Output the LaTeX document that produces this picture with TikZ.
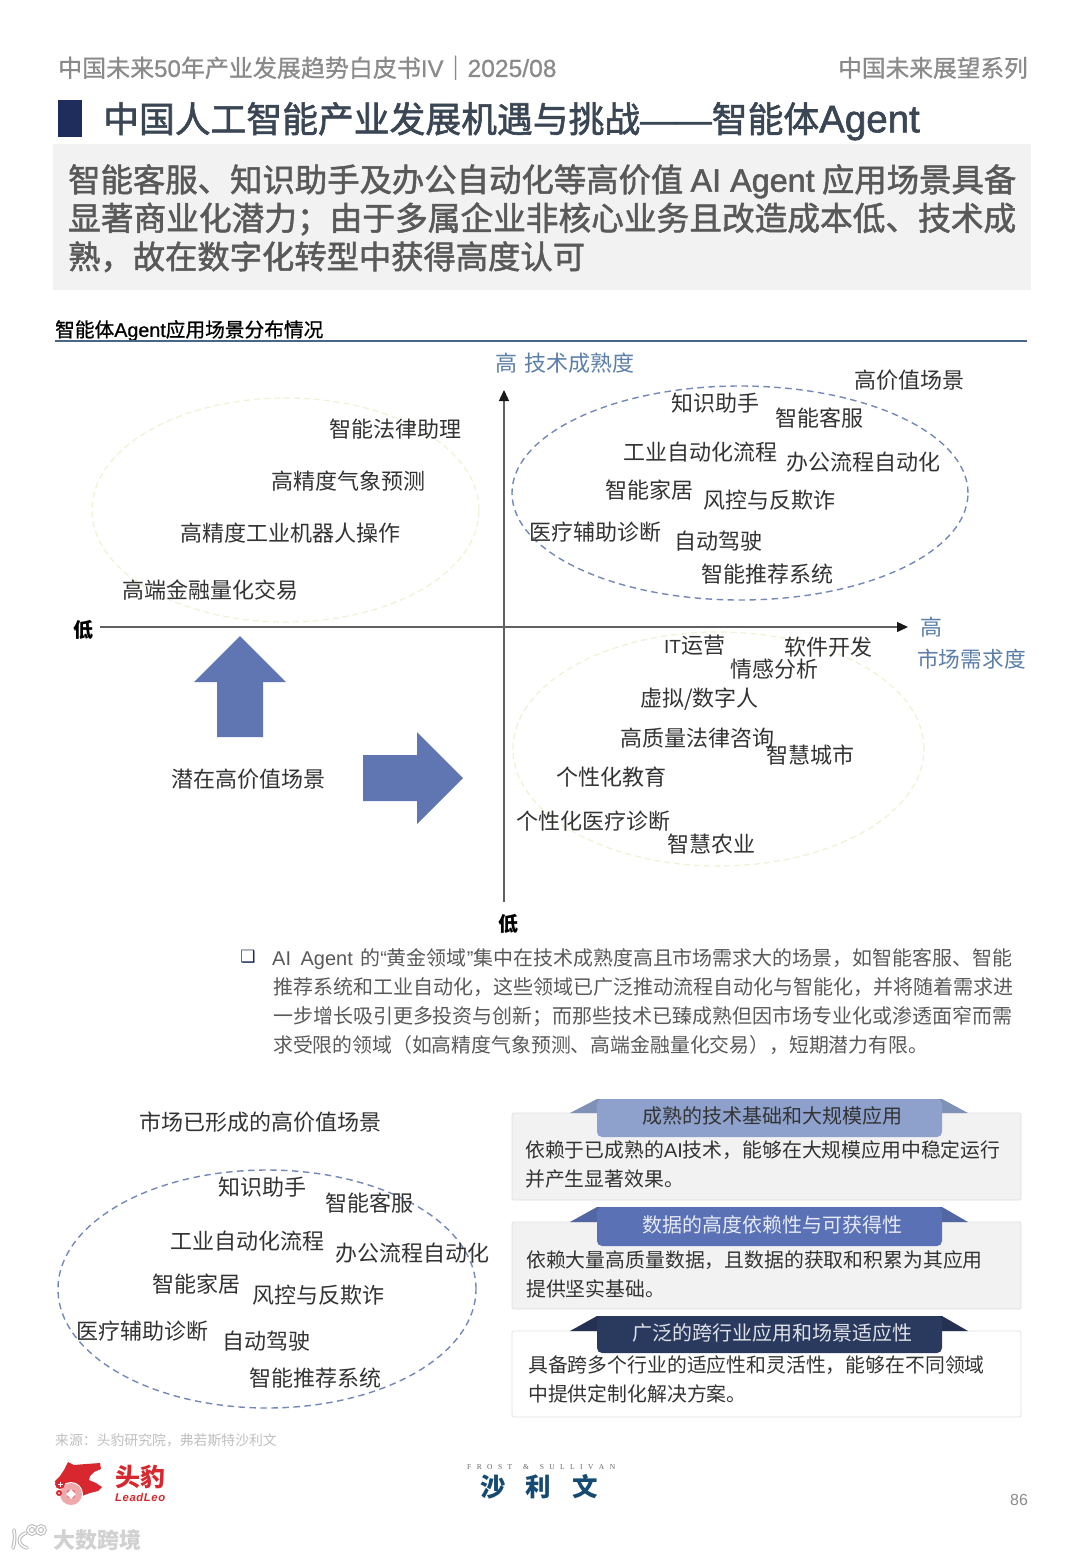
\documentclass[tikz,border=0pt]{standalone}
\usepackage{fontspec}
\usepackage{graphicx}
\setmainfont{Noto Sans CJK SC}
\newfontfamily\med{Noto Sans CJK SC}[FakeBold=0.8]
\newfontfamily\hvy{Noto Sans CJK SC}[FakeBold=1.6]
\newfontfamily\lat{Liberation Sans}
\newfontfamily\latm{Liberation Sans}[FakeBold=0.8]
\newfontfamily\lath{Liberation Sans}[FakeBold=1.6]
\newfontfamily\ser{Liberation Serif}
\newfontfamily\djv{DejaVu Sans}
\usetikzlibrary{arrows.meta}
\newcounter{tn}
% left x, centre y, size, colour, text
\newcommand{\T}[5]{\stepcounter{tn}\node[anchor=base west,inner sep=0pt,text=#4,font=\fontsize{#3}{#3}\selectfont] (t\arabic{tn}) at ({#1},{#2+0.40*#3}) {#5};}
% left x, centre y, size, colour, width, text (line fitted to a width)
\newcommand{\F}[6]{\stepcounter{tn}\node[anchor=base west,inner sep=0pt,text=#4,font=\fontsize{#3}{#3}\selectfont] (t\arabic{tn}) at ({#1},{#2+0.40*#3}) {\resizebox{#5pt}{!}{#6}};}
\newcommand{\Cc}[5]{\stepcounter{tn}\node[anchor=base,inner sep=0pt,text=#4,font=\fontsize{#3}{#3}\selectfont] (t\arabic{tn}) at ({#1},{#2+0.40*#3}) {#5};}
\definecolor{hdr}{HTML}{8A8A8A}
\definecolor{navy}{HTML}{1F2D5C}
\definecolor{ttl}{HTML}{3A4654}
\definecolor{lead}{HTML}{595959}
\definecolor{body}{HTML}{333333}
\definecolor{axlab}{HTML}{5B7FA8}
\definecolor{dashblue}{HTML}{7488B8}
\definecolor{dashpale}{HTML}{F1F1D6}
\definecolor{arrowblue}{HTML}{5F76B3}
\definecolor{tabA}{HTML}{8EA1CC}
\definecolor{tabB}{HTML}{5A71B5}
\definecolor{tabC}{HTML}{2A3A5E}
\definecolor{leo}{HTML}{D8272E}
\definecolor{fs}{HTML}{154A72}
\tikzset{
  axis/.style={draw=black!62,line width=1.3pt,-{Triangle[length=11pt,width=10pt,color=black!90]}},
  hotring/.style={draw=dashblue,line width=1.4pt,dash pattern=on 6.5pt off 4.5pt},
  palering/.style={draw=dashpale,line width=1.2pt,dash pattern=on 6pt off 4pt},
  bigarrow/.style={fill=arrowblue,draw=none},
  card/.style={draw=black!12,line width=.8pt,rounded corners=1.5pt},
  tab/.style={rounded corners=5pt,draw=none},
  wmark/.style={draw=black!28,double=white,line width=1pt,double distance=1.6pt,line cap=round},
}
\begin{document}
\begin{tikzpicture}[x=1pt,y=-1pt]
\useasboundingbox (0,0) rectangle (1080,1559);
\fill[white] (0,0) rectangle (1080,1559);
% header
\T{58}{67.3}{24}{hdr}{\med 中国未来{\latm 50}年产业发展趋势白皮书{\latm IV}｜{\latm\fontsize{24.6}{24.6}\selectfont 2025/08}}
\T{838}{67.3}{23.7}{hdr}{\med 中国未来展望系列}
\fill[navy] (58,100) rectangle (82,137);
\T{103}{118}{35.8}{ttl}{\hvy 中国人工智能产业发展机遇与挑战{\lath ——}智能体{\lath\fontsize{38.5}{38.5}\selectfont Agent}}
\fill[black!5] (53,144) rectangle (1031,290);
\F{68}{178.8}{32.3}{lead}{948}{\hvy 智能客服、知识助手及办公自动化等高价值 {\lath AI Agent} 应用场景具备}
\F{68}{217.3}{32.3}{lead}{948}{\hvy 显著商业化潜力；由于多属企业非核心业务且改造成本低、技术成}
\T{68}{255.8}{32.3}{lead}{\hvy 熟，故在数字化转型中获得高度认可}
\T{55}{329}{19.7}{black}{\med 智能体{\latm Agent}应用场景分布情况}
\draw[draw=axlab!80!black,line width=1.2pt] (55,341) -- (1027,341);
% ellipses
\draw[hotring] (740,493) ellipse [x radius=228pt,y radius=107pt];
\draw[palering] (285.5,510) ellipse [x radius=193.5pt,y radius=112pt];
\draw[palering] (718.5,749) ellipse [x radius=205.5pt,y radius=117pt];
\draw[hotring] (267,1289) ellipse [x radius=209pt,y radius=119pt];
% axes
\coordinate (xlow) at (100,627);
\coordinate (xhigh) at (908,627);
\coordinate (ylow) at (504,902);
\coordinate (yhigh) at (504,390);
\draw[axis] (xlow) -- (xhigh);
\draw[axis] (ylow) -- (yhigh);
% axis labels
\T{495}{363}{22}{axlab}{高\hspace{2pt} 技术成熟度}
\T{73}{629}{20}{black}{\bfseries 低}
\T{498}{923}{20}{black}{\bfseries 低}
\T{920}{627}{22}{axlab}{高}
\T{917}{659}{21.7}{axlab}{市场需求度}
% top right
\T{854}{380}{22}{body}{高价值场景}
\T{671}{403}{22}{body}{知识助手}
\T{775}{418}{22}{body}{智能客服}
\T{623}{452}{22}{body}{工业自动化流程}
\T{786}{462}{22}{body}{办公流程自动化}
\T{605}{490}{22}{body}{智能家居}
\T{703}{500}{22}{body}{风控与反欺诈}
\T{529}{532}{22}{body}{医疗辅助诊断}
\T{674}{541}{22}{body}{自动驾驶}
\T{701}{574}{22}{body}{智能推荐系统}
% top left
\T{329}{429}{22}{body}{智能法律助理}
\T{271}{481}{22}{body}{高精度气象预测}
\T{180}{533}{22}{body}{高精度工业机器人操作}
\T{122}{590}{22}{body}{高端金融量化交易}
% bottom right
\T{664}{645}{22}{body}{{\lat\fontsize{19}{19}\selectfont IT}运营}
\T{784}{647}{22}{body}{软件开发}
\T{730}{669}{22}{body}{情感分析}
\T{640}{698}{22}{body}{虚拟/数字人}
\T{620}{738}{22}{body}{高质量法律咨询}
\T{766}{755}{22}{body}{智慧城市}
\T{556}{777}{22}{body}{个性化教育}
\T{516}{821}{22}{body}{个性化医疗诊断}
\T{667}{844}{22}{body}{智慧农业}
% lower left quadrant
\fill[bigarrow] (240,636) -- (286,682) -- (263,682) -- (263,737) -- (217,737) -- (217,682) -- (194,682) -- cycle;
\fill[bigarrow] (463,778) -- (417,732) -- (417,755) -- (363,755) -- (363,801) -- (417,801) -- (417,824) -- cycle;
\T{171}{779}{22}{body}{潜在高价值场景}
% paragraph
\stepcounter{tn}\node[inner sep=0pt,text=navy,font=\djv\fontsize{17}{17}\selectfont] (t\arabic{tn}) at (248,957) {❑};
\F{272}{958}{19.5}{lead}{740}{{\lat AI\hspace{4pt} Agent}\hspace{3pt} 的{\lat “}黄金领域{\lat ”}集中在技术成熟度高且市场需求大的场景，如智能客服、智能}
\F{273}{987}{19.5}{lead}{740}{推荐系统和工业自动化，这些领域已广泛推动流程自动化与智能化，并将随着需求进}
\F{273}{1016}{19.5}{lead}{739}{一步增长吸引更多投资与创新；而那些技术已臻成熟但因市场专业化或渗透面窄而需}
\F{273}{1045}{19.5}{lead}{655}{求受限的领域（如高精度气象预测、高端金融量化交易），短期潜力有限。}
% bottom left
\T{139}{1122}{22}{body}{市场已形成的高价值场景}
\T{218}{1187}{22}{body}{知识助手}
\T{325}{1203}{22}{body}{智能客服}
\T{170}{1241}{22}{body}{工业自动化流程}
\T{335}{1253}{22}{body}{办公流程自动化}
\T{152}{1284}{22}{body}{智能家居}
\T{252}{1295}{22}{body}{风控与反欺诈}
\T{76}{1331}{22}{body}{医疗辅助诊断}
\T{222}{1341}{22}{body}{自动驾驶}
\T{249}{1378}{22}{body}{智能推荐系统}
% cards
\draw[card,fill=black!5] (512,1113) rectangle (1021,1200);
\fill[tabA!90!black] (570,1113) -- (597,1099) -- (942,1099) -- (968,1113) -- cycle;
\fill[tabA,tab] (597,1099) -- (942,1099) -- (942,1137) -- (597,1137) -- cycle;
\Cc{772.5}{1115}{20}{body}{成熟的技术基础和大规模应用}
\T{525}{1150}{19.85}{body}{依赖于已成熟的{\lat AI}技术，能够在大规模应用中稳定运行}
\T{525}{1179}{19.85}{body}{并产生显著效果。}
\draw[card,fill=black!5] (512,1222) rectangle (1021,1309);
\fill[tabB!90!black] (570,1222) -- (597,1207) -- (942,1207) -- (968,1222) -- cycle;
\fill[tabB,tab] (597,1207) -- (942,1207) -- (942,1246) -- (597,1246) -- cycle;
\Cc{772.5}{1224}{20}{white!85!tabB}{数据的高度依赖性与可获得性}
\T{526}{1260}{19.85}{body}{依赖大量高质量数据，且数据的获取和积累为其应用}
\T{526}{1289}{19.85}{body}{提供坚实基础。}
\draw[card,fill=white] (512,1331) rectangle (1021,1417);
\fill[tabC!85!black] (570,1331) -- (597,1316) -- (942,1316) -- (968,1331) -- cycle;
\fill[tabC,tab] (597,1316) -- (942,1316) -- (942,1353) -- (597,1353) -- cycle;
\Cc{772.5}{1332}{20}{white!85!tabC}{广泛的跨行业应用和场景适应性}
\T{528}{1365}{19.85}{body}{具备跨多个行业的适应性和灵活性，能够在不同领域}
\T{528}{1394}{19.85}{body}{中提供定制化解决方案。}
% footer
\T{55}{1440}{13.85}{black!25}{来源：头豹研究院，弗若斯特沙利文}
\T{1010}{1499}{16}{black!45}{{\lat 86}}
% LeadLeo logo
\fill[leo] (68,1462) -- (74,1465) -- (86,1464) -- (100,1463) -- (101,1469) -- (94,1472) -- (90,1476) -- (89,1480) -- (96,1483) -- (102,1487) -- (98,1491) -- (90,1493) -- (82,1496) -- (62,1486) -- (56,1484) -- (55,1481) -- (60,1476) -- (64,1470) -- cycle;
\fill[white] (71,1494) circle (12pt);
\fill[white!60!leo] (71,1494) circle (11pt);
\fill[leo] (71,1494) circle (4.5pt);
\fill[white] (71,1489) -- (76,1494) -- (71,1499) -- (66,1494) -- cycle;
\fill[leo] (60,1484) circle (5pt);
\draw[white,line width=1pt] (57.5,1484) -- (62.5,1484) (60,1481.5) -- (60,1486.5);
\fill[leo] (59,1493) circle (3pt);
\fill[white] (59,1493) circle (1pt);
\T{115}{1476}{25}{leo}{\bfseries 头豹}
\F{115}{1497}{11.5}{leo}{50}{{\lat\bfseries\itshape L\hspace{.6pt}e\hspace{.6pt}a\hspace{.6pt}d\hspace{.6pt}L\hspace{.6pt}e\hspace{.6pt}o}}
% Frost & Sullivan logo
\T{467}{1466}{7.5}{black!60}{\ser\makebox[148pt][s]{F\hfill R\hfill O\hfill S\hfill T\hfill\hfill\&\hfill\hfill S\hfill U\hfill L\hfill L\hfill I\hfill V\hfill A\hfill N}}
\T{480}{1486.5}{25.5}{fs}{\bfseries 沙\hspace{20pt}利\hspace{21.5pt}文}
% watermark
\draw[wmark] (14,1530) .. controls (15,1536) and (15,1542) .. (13,1548);
\draw[wmark] (26,1533) .. controls (17,1536) and (17,1545) .. (27,1548);
\draw[wmark] (32,1530) circle (4pt);
\draw[wmark] (41,1530) circle (4pt);
\T{53}{1540}{22}{black!18}{\bfseries 大数跨境}
\end{tikzpicture}
\end{document}
